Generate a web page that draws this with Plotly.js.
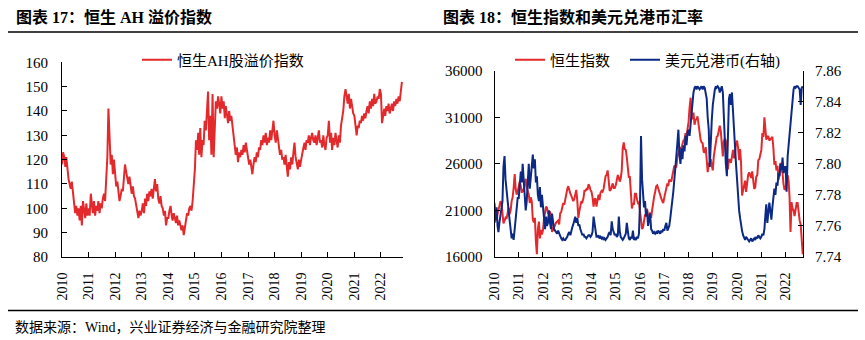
<!DOCTYPE html>
<html>
<head>
<meta charset="utf-8">
<script src="https://cdn.plot.ly/plotly-3.0.1.min.js"></script>
<style>
html,body{margin:0;padding:0;background:#fff;}
#chart{width:865px;height:340px;}
</style>
</head>
<body>
<div id="chart"></div>
<script>
// ---- Data (semi-monthly readings: 1st and 16th of each month) ----
const startYear = 2010;
const yearLabels = ['2010','2011','2012','2013','2014','2015','2016','2017','2018','2019','2020','2021','2022'];

// 恒生AH股溢价指数
const ahPremium = [
  118,123,121,117,121,115,112,110,108,111,106,103,98,101,97,100,95,101,93,103,99,96,102,97,
  100,97,106,101,98,103,97,101,99,103,98,102,100,104,106,103,112,121,141,126,118,122,114,120,
  113,109,111,106,103,105,108,107,112,118,115,112,110,113,108,106,109,105,104,101,98,96,99,97,
  99,102,98,104,101,106,103,107,105,108,104,109,112,107,110,104,102,105,101,100,97,99,93,96,
  96,99,101,97,95,98,96,94,97,93,95,92,91,93,89,92,95,98,97,100,101,99,103,108,
  116,128,124,131,122,133,121,128,126,136,132,140,148,128,138,122,147,121,138,144,141,146,143,139,
  146,141,144,137,142,139,135,140,136,138,133,128,126,122,125,119,123,121,124,122,126,123,127,124,
  121,118,120,116,114,118,121,119,123,121,125,124,128,126,130,127,131,126,129,127,132,128,131,136,
  130,127,132,128,125,122,124,120,121,118,122,116,113,119,116,121,118,123,127,121,118,116,120,117,
  120,123,125,127,124,128,127,130,126,129,131,128,127,130,126,129,132,127,128,125,130,126,124,129,
  130,136,127,131,124,129,126,131,128,125,130,127,134,137,140,146,149,146,143,147,141,145,142,139,
  138,135,130,134,133,136,135,138,136,139,137,140,142,139,144,141,145,142,147,143,144,146,145,149,
  147,135,139,141,138,142,140,143,139,141,143,140,144,142,145,143,146,144,147,152
];

// 恒生指数
const hsIndex = [
  21800,20600,19900,20600,21000,21300,22000,21800,20500,19600,19900,20200,20100,20800,21300,20600,21000,22000,22400,23400,24900,23300,22700,23000,
  23500,24100,23600,22900,23300,23000,24000,24400,23500,23100,22700,21800,22400,22000,20000,19700,20200,17700,16300,19000,19800,18000,18900,18400,
  18900,20100,20600,21400,21300,20700,20600,20900,20400,18700,18900,19200,19400,19700,19800,19900,19500,20700,20800,21500,21800,21600,22300,22600,
  23300,23600,23100,22800,22600,22200,22000,22200,23000,23200,22000,20200,20900,21400,22000,21900,22300,23100,23100,23300,23200,23800,23600,23200,
  23000,22400,21400,22200,22300,21400,22300,22700,22100,22900,23100,23000,23300,24100,24700,24800,25300,24200,23100,23200,23600,23900,23400,23400,
  23700,24300,24800,24500,24100,24400,25300,27700,28300,27600,27500,26700,25100,24600,24600,23300,21200,21800,21600,22800,22800,22200,21800,21900,
  21000,19600,19000,19200,20000,20500,20600,21200,20400,19900,20800,20200,21000,21900,22500,23000,23600,23700,23300,23000,22600,22300,22000,21800,
  22400,22900,23400,23900,23600,24300,24200,24100,24700,25300,25800,25700,25700,26700,27300,27500,27800,27600,28100,28500,28600,29300,29000,29700,
  30500,32000,33100,30800,30900,31500,30200,30700,30800,31100,30300,29000,28600,28300,28200,27300,27200,27800,26600,25100,25900,26200,26500,25800,
  25300,26800,27800,28300,28900,29000,29700,30100,29500,27500,26800,28400,28700,28500,26900,25400,26500,26400,26100,26700,27500,26600,27100,28200,
  28500,27800,26400,27600,26200,22600,23300,24000,24200,23000,24300,24800,25100,24700,24500,25200,24400,23300,23500,24600,24800,26400,26500,27000,
  27500,29300,28900,31000,29400,28600,28900,29000,28500,28600,28800,28900,27700,25900,26300,25300,25800,24300,24800,26100,25300,25000,23800,23200,
  23400,24200,24800,24100,22500,18700,21900,21200,21000,20400,21100,21800,21800,20600,19900,19500,18200,16300
];

// 美元兑港币(右轴)
const usdHkd = [
  7.762,7.768,7.772,7.760,7.756,7.762,7.766,7.770,7.776,7.798,7.805,7.790,7.782,7.778,7.770,7.764,7.758,7.752,7.755,7.751,7.758,7.764,7.772,7.778,
  7.778,7.786,7.795,7.788,7.800,7.790,7.782,7.770,7.776,7.790,7.800,7.784,7.790,7.798,7.806,7.797,7.803,7.788,7.792,7.780,7.776,7.785,7.772,7.780,
  7.772,7.764,7.758,7.766,7.760,7.762,7.770,7.762,7.758,7.768,7.760,7.758,7.757,7.756,7.755,7.757,7.755,7.753,7.752,7.751,7.752,7.751,7.751,7.752,
  7.753,7.755,7.756,7.754,7.757,7.759,7.761,7.764,7.766,7.762,7.765,7.760,7.761,7.758,7.756,7.754,7.755,7.753,7.753,7.752,7.753,7.754,7.754,7.753,
  7.754,7.756,7.766,7.760,7.756,7.753,7.753,7.754,7.752,7.753,7.752,7.753,7.751,7.752,7.751,7.752,7.753,7.755,7.756,7.754,7.763,7.758,7.755,7.754,
  7.755,7.753,7.754,7.766,7.757,7.753,7.752,7.751,7.752,7.754,7.755,7.762,7.754,7.752,7.751,7.753,7.752,7.757,7.751,7.752,7.751,7.753,7.752,7.755,
  7.775,7.818,7.790,7.778,7.772,7.776,7.766,7.770,7.760,7.764,7.768,7.758,7.757,7.755,7.756,7.755,7.756,7.755,7.757,7.756,7.755,7.757,7.756,7.758,
  7.757,7.760,7.762,7.757,7.758,7.760,7.765,7.770,7.778,7.782,7.790,7.796,7.805,7.813,7.822,7.806,7.800,7.810,7.803,7.812,7.808,7.818,7.812,7.820,
  7.822,7.818,7.826,7.832,7.838,7.846,7.849,7.850,7.848,7.850,7.849,7.848,7.849,7.850,7.848,7.850,7.849,7.846,7.842,7.830,7.822,7.798,7.820,7.828,
  7.838,7.845,7.848,7.850,7.849,7.850,7.849,7.846,7.848,7.850,7.846,7.830,7.812,7.800,7.792,7.822,7.842,7.845,7.838,7.846,7.832,7.828,7.815,7.800,
  7.790,7.778,7.770,7.765,7.760,7.757,7.754,7.752,7.751,7.753,7.752,7.751,7.750,7.751,7.752,7.750,7.751,7.752,7.751,7.753,7.752,7.754,7.753,7.752,
  7.753,7.755,7.754,7.758,7.766,7.774,7.762,7.768,7.775,7.770,7.764,7.772,7.778,7.784,7.780,7.788,7.786,7.794,7.792,7.800,7.796,7.804,7.794,7.798,
  7.798,7.782,7.805,7.812,7.822,7.830,7.838,7.845,7.848,7.850,7.849,7.850,7.850,7.849,7.848,7.838,7.849,7.850
];

// date grid (1st and 16th of each month)
function pad(n){return (n<10?'0':'')+n;}
const halfMonthDates = [];
for (let y = startYear; y <= 2022; y++) {
  for (let m = 1; m <= 12; m++) {
    halfMonthDates.push(y+'-'+pad(m)+'-01');
    halfMonthDates.push(y+'-'+pad(m)+'-16');
  }
}
const yearTicks = yearLabels.map(y => y + '-01-01');

const RED = '#E3292B';
const BLUE = '#0C2A85';
const SERIF = '"Liberation Serif","Times New Roman","Noto Sans CJK SC",serif';
const W = 865, H = 340;
const px = x => x / W;
const py = y => 1 - y / H;

const traces = [
  {x: halfMonthDates.slice(0, ahPremium.length), y: ahPremium, type:'scatter', mode:'lines',
   name:'恒生AH股溢价指数', line:{color:RED, width:2}, xaxis:'x', yaxis:'y', legend:'legend'},
  {x: halfMonthDates.slice(0, hsIndex.length), y: hsIndex, type:'scatter', mode:'lines',
   name:'恒生指数', line:{color:RED, width:2}, xaxis:'x2', yaxis:'y2', legend:'legend2'},
  {x: halfMonthDates.slice(0, usdHkd.length), y: usdHkd, type:'scatter', mode:'lines',
   name:'美元兑港币(右轴)', line:{color:BLUE, width:2}, xaxis:'x2', yaxis:'y3', legend:'legend3'}
];

const axisCommon = {
  showline:true, linecolor:'#000', linewidth:1, ticks:'inside', ticklen:5, tickcolor:'#000',
  showgrid:false, zeroline:false, fixedrange:true
};
const xCommon = Object.assign({}, axisCommon, {
  type:'date', tickvals: yearTicks, ticktext: yearLabels, tickangle:-90,
  tickfont:{family:SERIF, size:14, color:'#000'}, ticklabelstandoff:9
});
const yFont = {family:SERIF, size:15, color:'#000'};
const legendCommon = {orientation:'h', xanchor:'left', yanchor:'middle', bgcolor:'rgba(0,0,0,0)',
  font:{family:SERIF, size:15, color:'#000'}, itemwidth:30, y:py(60)};

const layout = {
  width:W, height:H, margin:{l:0,r:0,t:0,b:0},
  paper_bgcolor:'#fff', plot_bgcolor:'rgba(0,0,0,0)',
  font:{family:SERIF, color:'#000'},
  xaxis: Object.assign({}, xCommon, {domain:[px(62), px(403)], anchor:'y', range:['2010-01-01','2022-10-31']}),
  yaxis: Object.assign({}, axisCommon, {domain:[py(257), py(62.3)], anchor:'x', range:[80,160], dtick:10, tickfont:yFont, ticklabelstandoff:10}),
  xaxis2: Object.assign({}, xCommon, {domain:[px(494.5), px(803)], anchor:'y2', range:['2010-01-01','2022-09-20']}),
  yaxis2: Object.assign({}, axisCommon, {domain:[py(257), py(70.7)], anchor:'x2', range:[16000,36000], tick0:16000, dtick:5000,
           tickformat:'d', tickfont:yFont, ticklabelstandoff:8}),
  yaxis3: Object.assign({}, axisCommon, {overlaying:'y2', anchor:'x2', side:'right', range:[7.74,7.86], tick0:7.74, dtick:0.02,
           tickformat:'.2f', tickfont:yFont, ticklabelstandoff:8}),
  showlegend:true,
  legend: Object.assign({}, legendCommon, {x:px(137)}),
  legend2: Object.assign({}, legendCommon, {x:px(510)}),
  legend3: Object.assign({}, legendCommon, {x:px(625)}),
  shapes:[
    {type:'line', xref:'paper', yref:'paper', x0:px(8), x1:px(858), y0:py(32), y1:py(32), line:{color:'#000', width:1.5}},
    {type:'line', xref:'paper', yref:'paper', x0:px(8), x1:px(858), y0:py(310.5), y1:py(310.5), line:{color:'#000', width:1.5}}
  ],
  annotations:[
    {xref:'paper', yref:'paper', x:px(14), y:py(17), xanchor:'left', yanchor:'middle', showarrow:false,
     text:'<b>图表 17：恒生 AH 溢价指数</b>', font:{family:SERIF, size:16, color:'#000'}},
    {xref:'paper', yref:'paper', x:px(441), y:py(17), xanchor:'left', yanchor:'middle', showarrow:false,
     text:'<b>图表 18：恒生指数和美元兑港币汇率</b>', font:{family:SERIF, size:16, color:'#000'}},
    {xref:'paper', yref:'paper', x:px(13), y:py(327), xanchor:'left', yanchor:'middle', showarrow:false,
     text:'数据来源：Wind，兴业证券经济与金融研究院整理', font:{family:SERIF, size:14, color:'#000'}}
  ]
};

Plotly.newPlot('chart', traces, layout, {displayModeBar:false, staticPlot:true});
</script>
</body>
</html>
